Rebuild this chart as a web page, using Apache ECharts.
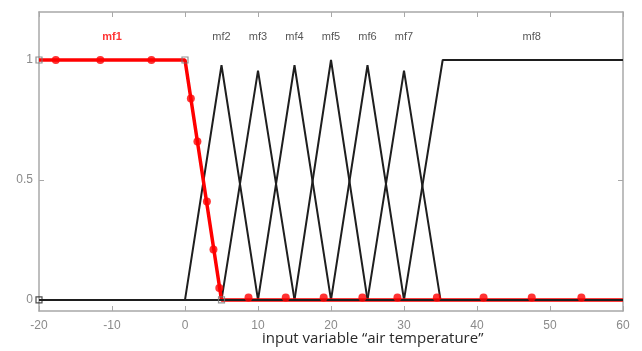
<!DOCTYPE html>
<html><head><meta charset="utf-8">
<script src="https://cdn.jsdelivr.net/npm/echarts@6/dist/echarts.min.js"></script>
<style>html,body{margin:0;padding:0;background:#fff}#c{width:642px;height:351px}</style>
</head><body><div id="c"></div>
<script>
const xTicks = [-20, -10, 0, 10, 20, 30, 40, 50, 60];
const yTicks = [0, 0.5, 1];
const mfNames = ['mf1', 'mf2', 'mf3', 'mf4', 'mf5', 'mf6', 'mf7', 'mf8'];
const mfLabelX = [-10, 5, 10, 15, 20, 25, 30, 47.5];
const mfLabelY = 1.096;
const mf1 = [[-20, 1], [0, 1], [5, 0], [60, 0]];
const mf1Points = [[-17.7, 1], [-11.6, 1], [-4.6, 1], [0.8, 0.84], [1.7, 0.66], [3.0, 0.41], [3.9, 0.21], [4.7, 0.05],
  [8.7, 0.01], [13.8, 0.01], [19.0, 0.01], [24.3, 0.01], [29.1, 0.01], [34.5, 0.01], [40.9, 0.01], [47.5, 0.01], [54.3, 0.01]];
const mf1Handles = [[-20, 1], [0, 1], [5, 0]];
const mf2 = [[-20, 0], [0, 0], [5, 0.978], [10, 0], [60, 0]];
const mf3 = [[-20, 0], [5, 0], [10, 0.956], [15, 0], [60, 0]];
const mf4 = [[-20, 0], [10, 0], [15, 0.978], [20, 0], [60, 0]];
const mf5 = [[-20, 0], [15, 0], [20, 1], [25, 0], [60, 0]];
const mf6 = [[-20, 0], [20, 0], [25, 0.978], [30, 0], [60, 0]];
const mf7 = [[-20, 0], [25, 0], [30, 0.956], [35, 0], [60, 0]];
const mf8 = [[-20, 0], [30, 0], [35.3, 1], [60, 1]];
const baseline = [[-20, 0], [60, 0]];
const baseHandle = [[-20, 0]];

const chart = echarts.init(document.getElementById('c'), null, {renderer: 'canvas'});
const gray = '#a8a8a8';
const tickLbl = {color: '#8a8a8a', fontSize: 12, fontFamily: 'Liberation Sans'};
function blackLine(d) {
  return {type: 'line', data: d, symbol: 'none', lineStyle: {color: '#1e1e1e', width: 2}, z: 2, silent: true};
}
const labelData = mfNames.map((n, i) => i === 0
  ? {value: [mfLabelX[i], mfLabelY], label: {color: '#ff0000', fontWeight: 'bold'}}
  : {value: [mfLabelX[i], mfLabelY]});
chart.setOption({
  animation: false,
  grid: {left: 39, right: 19, top: 12, bottom: 40},
  xAxis: [{
    type: 'value', min: -20, max: 60, interval: 10, position: 'bottom',
    axisLine: {show: true, onZero: false, lineStyle: {color: gray, width: 1.5}},
    axisTick: {show: true, inside: true, length: 5, lineStyle: {color: gray}},
    axisLabel: Object.assign({margin: 9}, tickLbl),
    splitLine: {show: false}
  }, {
    type: 'value', min: -20, max: 60, interval: 10, position: 'top',
    axisLine: {show: true, onZero: false, lineStyle: {color: gray, width: 1.5}},
    axisTick: {show: true, inside: true, length: 5, lineStyle: {color: gray}},
    axisLabel: {show: false}, splitLine: {show: false}
  }],
  yAxis: [{
    type: 'value', min: -0.046, max: 1.2, position: 'left',
    axisLine: {show: true, onZero: false, lineStyle: {color: gray, width: 1.5}},
    axisTick: {show: true, inside: true, length: 5, customValues: yTicks, lineStyle: {color: gray}},
    axisLabel: Object.assign({margin: 6, customValues: yTicks}, tickLbl),
    splitLine: {show: false}
  }, {
    type: 'value', min: -0.046, max: 1.2, position: 'right',
    axisLine: {show: true, onZero: false, lineStyle: {color: gray, width: 1.5}},
    axisTick: {show: true, inside: true, length: 5, customValues: yTicks, lineStyle: {color: gray}},
    axisLabel: {show: false}, splitLine: {show: false}
  }],
  graphic: [{
    type: 'text', left: 262, top: 331,
    style: {text: 'input variable \u201cair temperature\u201d', fill: '#2a2a2a', font: '15px "Open Sans"'}
  }],
  series: [
    blackLine(mf2), blackLine(mf3), blackLine(mf4), blackLine(mf5),
    blackLine(mf6), blackLine(mf7), blackLine(mf8),
    {type: 'line', data: mf1, symbol: 'none', lineStyle: {color: '#ff0000', width: 3.5}, z: 3, silent: true},
    {type: 'line', data: baseline, symbol: 'none', lineStyle: {color: '#1e1e1e', width: 2}, z: 4, silent: true},
    {type: 'scatter', data: mf1Points, symbol: 'circle', symbolSize: 8, itemStyle: {color: '#ff0000'}, z: 5, silent: true},
    {type: 'scatter', data: mf1Handles, symbol: 'rect', symbolSize: 6,
      itemStyle: {color: 'rgba(255,255,255,0)', borderColor: '#777', borderWidth: 1.2}, z: 6, silent: true},
    {type: 'scatter', data: baseHandle, symbol: 'rect', symbolSize: 6,
      itemStyle: {color: 'rgba(255,255,255,0)', borderColor: '#222', borderWidth: 1.2}, z: 6, silent: true},
    {type: 'scatter', data: labelData, symbolSize: 0, z: 7, silent: true,
      label: {show: true, position: 'inside', formatter: p => mfNames[p.dataIndex], fontSize: 11,
        fontFamily: 'Liberation Sans', color: '#2a2a2a'},
      labelLayout: {hideOverlap: false}
    }
  ]
});
</script>
</body></html>
